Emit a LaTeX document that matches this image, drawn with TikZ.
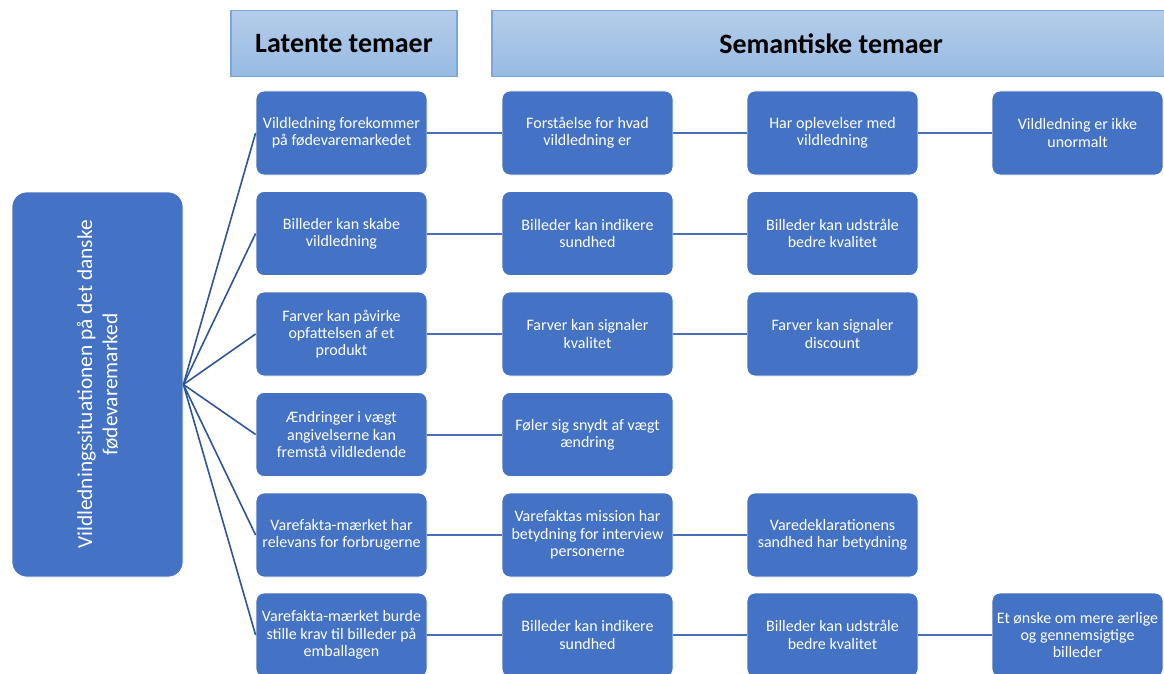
\documentclass[tikz,border=0pt]{standalone}
\usepackage{fontspec}
\setmainfont{Carlito}

\definecolor{boxblue}{HTML}{4472C4}
\definecolor{linkblue}{HTML}{4A6FB8}
\definecolor{rootline}{HTML}{2F5597}
\definecolor{headtop}{HTML}{B5CDEA}
\definecolor{headbot}{HTML}{97BAE2}
\definecolor{headline}{HTML}{78A6DD}

\tikzset{
  tema/.style={draw=white, line width=0.6pt, fill=boxblue, rounded corners=6pt,
    minimum width=128.25pt, minimum height=63pt, inner sep=1pt, align=center,
    text=white, font=\fontsize{12}{13}\selectfont},
  head/.style={draw=headline, line width=0.8pt, top color=headtop, bottom color=headbot,
    minimum height=50pt, inner sep=0pt, font=\fontsize{21}{25}\selectfont\bfseries},
  rootbox/.style={draw=white, line width=0.6pt, fill=boxblue, rounded corners=11pt,
    minimum width=288.75pt, minimum height=128.25pt, align=center,
    text=white, font=\fontsize{16}{19}\selectfont},
  link/.style={draw=linkblue, line width=1.5pt},
  spoke/.style={draw=rootline, line width=1.2pt}
}

\begin{document}
\begin{tikzpicture}[x=0.75pt,y=-0.75pt]
%\draw [help lines] (0,0) grid (1164,674);
\useasboundingbox (0,0) rectangle (1164,674);

% headers
\node [head, minimum width=169.5pt] (latent) at (344,43.5) {Latente temaer};
\node [head, minimum width=508.5pt] (semant) at (831,43.5) {Semantiske temaer};

% root, rotated
\node [rootbox, rotate=90] (root) at (97.5,384.5) {Vildledningssituationen på det danske\\fødevaremarked};

% latente temaer
\node [tema] (l1) at (341.5,133) {Vildledning forekommer\\på fødevaremarkedet};
\node [tema] (l2) at (341.5,233.5) {Billeder kan skabe\\vildledning};
\node [tema] (l3) at (341.5,334) {Farver kan påvirke\\opfattelsen af et\\produkt};
\node [tema] (l4) at (341.5,434.5) {Ændringer i vægt\\angivelserne kan\\fremstå vildledende};
\node [tema] (l5) at (341.5,535) {Varefakta-mærket har\\relevans for forbrugerne};
\node [tema] (l6) at (341.5,635) {Varefakta-mærket burde\\stille krav til billeder på\\emballagen};

% semantiske temaer, row by row
\node [tema] (s11) at (587.5,133) {Forståelse for hvad\\vildledning er};
\node [tema] (s12) at (832.5,133) {Har oplevelser med\\vildledning};
\node [tema] (s13) at (1077.5,133) {Vildledning er ikke\\unormalt};

\node [tema] (s21) at (587.5,233.5) {Billeder kan indikere\\sundhed};
\node [tema] (s22) at (832.5,233.5) {Billeder kan udstråle\\bedre kvalitet};

\node [tema] (s31) at (587.5,334) {Farver kan signaler\\kvalitet};
\node [tema] (s32) at (832.5,334) {Farver kan signaler\\discount};

\node [tema] (s41) at (587.5,434.5) {Føler sig snydt af vægt\\ændring};

\node [tema] (s51) at (587.5,535) {Varefaktas mission har\\betydning for interview\\personerne};
\node [tema] (s52) at (832.5,535) {Varedeklarationens\\sandhed har betydning};

\node [tema] (s61) at (587.5,635) {Billeder kan indikere\\sundhed};
\node [tema] (s62) at (832.5,635) {Billeder kan udstråle\\bedre kvalitet};
\node [tema] (s63) at (1077.5,635) {Et ønske om mere ærlige\\og gennemsigtige\\billeder};

% spokes from the root
\draw [spoke] (root.south)--(l1.west);
\draw [spoke] (root.south)--(l2.west);
\draw [spoke] (root.south)--(l3.west);
\draw [spoke] (root.south)--(l4.west);
\draw [spoke] (root.south)--(l5.west);
\draw [spoke] (root.south)--(l6.west);

% links along the rows
\draw [link] (l1)--(s11);
\draw [link] (s11)--(s12);
\draw [link] (s12)--(s13);
\draw [link] (l2)--(s21);
\draw [link] (s21)--(s22);
\draw [link] (l3)--(s31);
\draw [link] (s31)--(s32);
\draw [link] (l4)--(s41);
\draw [link] (l5)--(s51);
\draw [link] (s51)--(s52);
\draw [link] (l6)--(s61);
\draw [link] (s61)--(s62);
\draw [link] (s62)--(s63);

\end{tikzpicture}
\end{document}
